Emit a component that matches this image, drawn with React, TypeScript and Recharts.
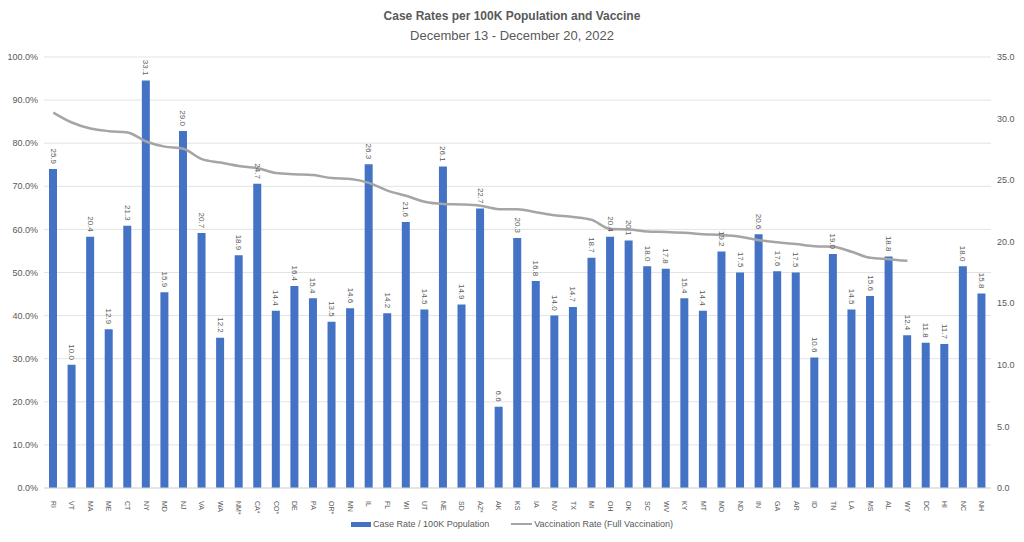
import {ComposedChart, Bar, Line, XAxis, YAxis, CartesianGrid, LabelList} from 'recharts';

const states = [
    "RI", "VT", "MA", "ME", "CT", "NY", "MD", "NJ", "VA", "WA",
    "NM*", "CA*", "CO*", "DE", "PA", "OR*", "MN", "IL", "FL", "WI",
    "UT", "NE", "SD", "AZ*", "AK", "KS", "IA", "NV", "TX", "MI",
    "OH", "OK", "SC", "WV", "KY", "MT", "MO", "ND", "IN", "GA",
    "AR", "ID", "TN", "LA", "MS", "AL", "WY", "DC", "HI", "NC", "NH",
];

// cases per 100K (right axis)
const caseRates = [
    25.9, 10.0, 20.4, 12.9, 21.3, 33.1, 15.9, 29.0, 20.7, 12.2,
    18.9, 24.7, 14.4, 16.4, 15.4, 13.5, 14.6, 26.3, 14.2, 21.6,
    14.5, 26.1, 14.9, 22.7, 6.6, 20.3, 16.8, 14.0, 14.7, 18.7,
    20.4, 20.1, 18.0, 17.8, 15.4, 14.4, 19.2, 17.5, 20.6, 17.6,
    17.5, 10.6, 19.0, 14.5, 15.6, 18.8, 12.4, 11.8, 11.7, 18.0, 15.8,
];

// full vaccination % (left axis), line stops after WY
const vaxRates = [
    87.1, 84.8, 83.4, 82.8, 82.5, 80.4, 79.2, 78.7, 76.3, 75.5,
    74.7, 74.2, 73.1, 72.8, 72.6, 71.9, 71.7, 70.8, 69.0, 67.8,
    66.4, 65.9, 65.8, 65.5, 64.7, 64.7, 64.0, 63.3, 62.9, 62.2,
    60.1, 60.0, 59.5, 59.4, 59.2, 58.9, 58.7, 58.3, 57.5, 57.0,
    56.6, 56.1, 56.0, 54.8, 53.4, 53.1, 52.7, null, null, null, null,
];

const leftTicks = [0, 10, 20, 30, 40, 50, 60, 70, 80, 90, 100];
const rightTicks = [0, 5, 10, 15, 20, 25, 30, 35];

const data = states.map((s, i) => ({state: s, cases: caseRates[i], vax: vaxRates[i]}));

const FONT = "'Liberation Sans', Arial, sans-serif";
const GREY = "#595959";
const BLUE = "#4472C4";
const LINE = "#A5A5A5";

const StateTick = ({x, y, payload}: any) => (
    <text x={x} y={y + 5} transform={`rotate(90, ${x}, ${y + 5})`} textAnchor="start"
          dominantBaseline="central" fontSize={7} fill={GREY} fontFamily={FONT}>
        {payload.value}
    </text>
);

const BarValue = ({x, y, width, value}: any) => {
    const cx = x + width / 2;
    const ty = y - 5;
    return <text x={cx} y={ty} transform={`rotate(90, ${cx}, ${ty})`} textAnchor="end"
                 dominantBaseline="central" fontSize={8} fill={GREY} fontFamily={FONT}>
        {Number(value).toFixed(1)}
    </text>;
}

export default function App() {
    return <div style={{position: "absolute", left: 0, top: 0, width: 1024, height: 542, background: "#fff", fontFamily: FONT}}>
        <div style={{position: "absolute", top: 9, width: "100%", textAlign: "center", fontSize: 12, fontWeight: "bold", color: GREY}}>
            Case Rates per 100K Population and Vaccine
        </div>
        <div style={{position: "absolute", top: 28, width: "100%", textAlign: "center", fontSize: 13, color: GREY}}>
            December 13 - December 20, 2022
        </div>
        <ComposedChart width={1024} height={542} data={data} barSize={8}
                       margin={{top: 57, right: 0, left: 0, bottom: 24}}>
            <CartesianGrid yAxisId="left" vertical={false} stroke="#e3e3e3" strokeWidth={1}/>
            <XAxis dataKey="state" height={30} interval={0} tickLine={false}
                   axisLine={{stroke: "#d9d9d9"}} tick={<StateTick/>}/>
            <YAxis yAxisId="left" orientation="left" width={44} domain={[0, 100]} ticks={leftTicks}
                   axisLine={false} tickLine={false} tickMargin={0}
                   tick={{fontSize: 9, fill: GREY, fontFamily: FONT}}
                   tickFormatter={(v: number) => `${v.toFixed(1)}%`}/>
            <YAxis yAxisId="right" orientation="right" width={33} domain={[0, 35]} ticks={rightTicks}
                   axisLine={false} tickLine={false} tickMargin={0}
                   tick={{fontSize: 9, fill: GREY, fontFamily: FONT}}
                   tickFormatter={(v: number) => v.toFixed(1)}/>
            <Bar yAxisId="right" dataKey="cases" fill={BLUE} isAnimationActive={false}>
                <LabelList dataKey="cases" content={<BarValue/>}/>
            </Bar>
            <Line yAxisId="left" dataKey="vax" type="monotone" stroke={LINE} strokeWidth={2.5}
                  dot={false} isAnimationActive={false}/>
        </ComposedChart>
        <div style={{position: "absolute", top: 519, left: 0, width: "100%", display: "flex", justifyContent: "center",
            alignItems: "center", fontSize: 9, color: GREY, gap: 22}}>
            <span style={{display: "flex", alignItems: "center"}}>
                <span style={{display: "inline-block", width: 20, height: 5, background: BLUE, marginRight: 2}}/>
                Case Rate / 100K Population
            </span>
            <span style={{display: "flex", alignItems: "center"}}>
                <span style={{display: "inline-block", width: 21, height: 2, background: LINE, marginRight: 2}}/>
                Vaccination Rate (Full Vaccination)
            </span>
        </div>
    </div>;
}
